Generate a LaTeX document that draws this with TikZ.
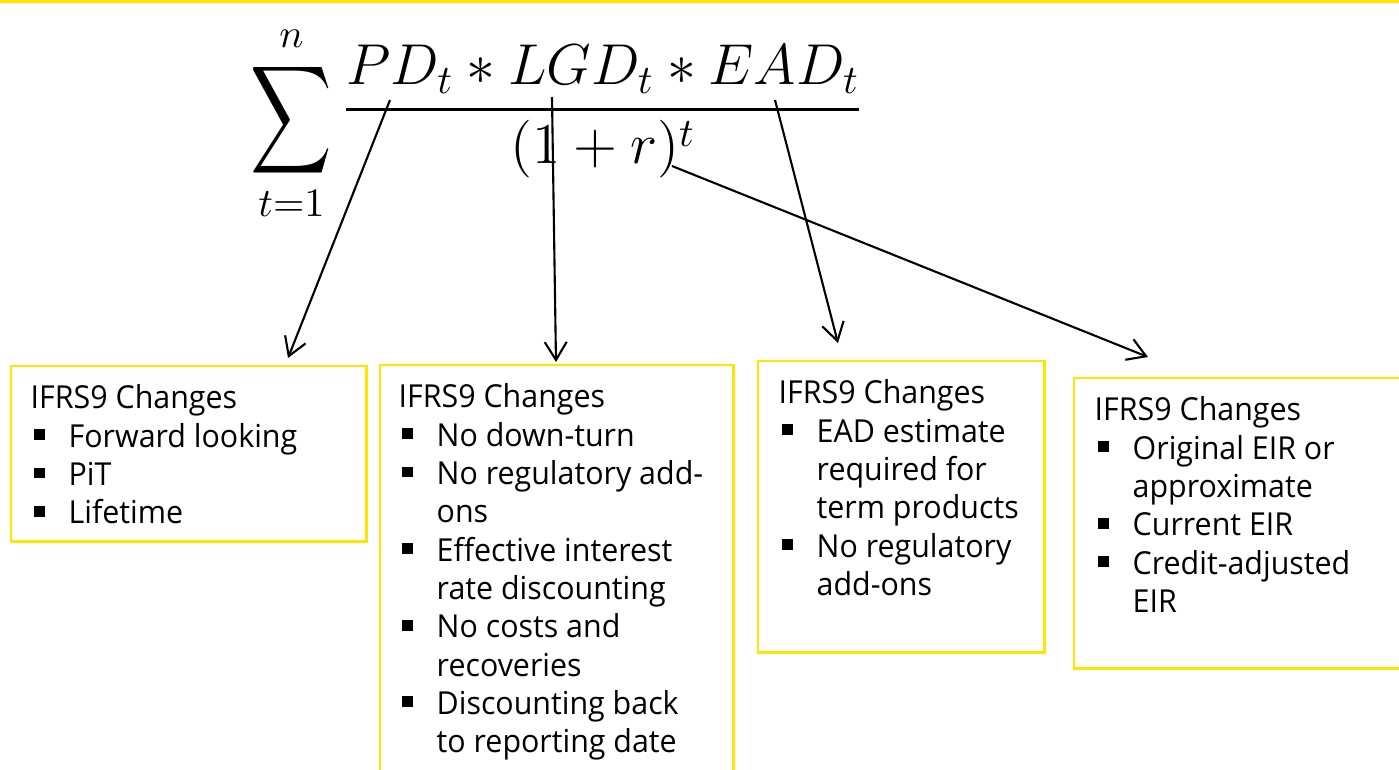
\RequirePackage{fix-cm}
\documentclass[tikz,border=0pt]{standalone}
\usepackage{amsmath}
\usepackage{fontspec}
\usepackage{graphicx}
\newfontfamily\boxfont[FakeStretch=0.96]{Open Sans}
\usetikzlibrary{arrows.meta,positioning}
\definecolor{eyyellow}{HTML}{FFE600}

% square bullets with a hanging indent
\newlength{\bulletgap}
\setlength{\bulletgap}{10.8pt}
\newcommand{\blt}{\makebox[\bulletgap][l]{\hspace{0.9pt}\rule[2pt]{3.1pt}{3.1pt}}}
\newcommand{\cont}{\hspace*{\bulletgap}}

\tikzset{%
  >={Straight Barb[length=1.8mm,width=2.2mm]},
  % boxes under the formula
   changebox/.style = {rectangle, draw=eyyellow, line width=0.7pt,
                       anchor=north west, inner sep=0pt},
  changetext/.style = {anchor=north west, inner sep=0pt, align=left,
                       font=\boxfont\fontsize{9}{10.9}\selectfont},
     pointer/.style = {->, line width=0.6pt},
}

\begin{document}
\begin{tikzpicture}[x=0.01cm, y=-0.01cm]
  \useasboundingbox (0,0) rectangle (1399,769);
  \clip (0,0) rectangle (1399,769);
  \fill[eyyellow] (0,0) rectangle (1399,3);

  % expected credit loss
  \node (ecl) [anchor=base west, inner sep=0pt,
               font=\fontsize{16.4}{20}\selectfont] at (250,124)
    {$\displaystyle\mathop{\raisebox{-4pt}{\scalebox{0.93}[1.24]{$\displaystyle\sum$}}}\limits_{t=1}^{n}
      \frac{PD_t*LGD_t*EAD_t}{(1+r)^t}$};

  % boxes
  \node (pdbox)  [changebox, minimum width=3.55cm, minimum height=1.75cm] at (10,365) {};
  \node (lgdbox) [changebox, minimum width=3.53cm, minimum height=4.3cm]  at (379,364) {};
  \node (eadbox) [changebox, minimum width=2.86cm, minimum height=2.91cm] at (757,360) {};
  \node (eirbox) [changebox, minimum width=3.5cm,  minimum height=2.9cm]  at (1073,377) {};

  \node (pdlist) [changetext, below right=0.19cm and 0.2cm of pdbox.north west]
    {IFRS9 Changes\\ \blt Forward looking\\ \blt PiT\\ \blt Lifetime};
  \node (lgdlist) [changetext, below right=0.19cm and 0.19cm of lgdbox.north west]
    {IFRS9 Changes\\ \blt No down-turn\\ \blt No regulatory add-\\ \cont ons\\
     \blt Effective interest\\ \cont rate discounting\\ \blt No costs and\\
     \cont recoveries\\ \blt Discounting back\\ \cont to reporting date};
  \node (eadlist) [changetext, below right=0.19cm and 0.21cm of eadbox.north west]
    {IFRS9 Changes\\ \blt EAD estimate\\ \cont required for\\ \cont term products\\
     \blt No regulatory\\ \cont add-ons};
  \node (eirlist) [changetext, below right=0.19cm and 0.21cm of eirbox.north west]
    {IFRS9 Changes\\ \blt Original EIR or\\ \cont approximate\\ \blt Current EIR\\
     \blt Credit-adjusted\\ \cont EIR};

  % pointers from the terms down to the boxes
  \coordinate (pdfrom)  at (390,100);
  \coordinate (lgdfrom) at (552,97);
  \coordinate (eadfrom) at (775,100);
  \coordinate (eirfrom) at (672,166);
  \coordinate (pdto)  at ([shift={(278,-7)}]pdbox.north west);
  \coordinate (lgdto) at ([shift={(177,-2)}]lgdbox.north west);
  \coordinate (eadto) at ([shift={(81,-17)}]eadbox.north west);
  \coordinate (eirto) at ([shift={(75,-20)}]eirbox.north west);
  \draw[pointer]  (pdfrom) -- (pdto);
  \draw[pointer] (lgdfrom) -- (lgdto);
  \draw[pointer] (eadfrom) -- (eadto);
  \draw[pointer] (eirfrom) -- (eirto);
\end{tikzpicture}
\end{document}
